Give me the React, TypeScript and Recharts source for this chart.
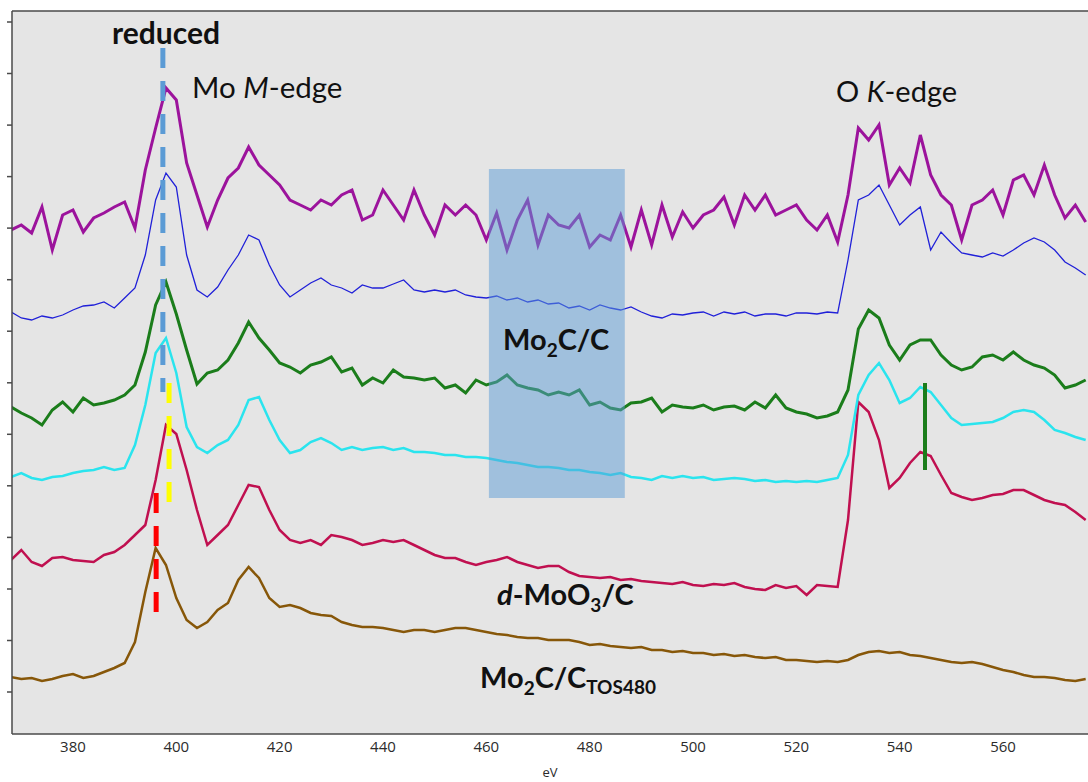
import { LineChart, Line, XAxis, YAxis, CartesianGrid, ReferenceArea, ReferenceLine } from 'recharts';

// photon energy, eV (2 eV steps)
const energy = [
  368, 370, 372, 374, 376, 378, 380, 382, 384, 386,
  388, 390, 392, 394, 396, 398, 400, 402, 404, 406,
  408, 410, 412, 414, 416, 418, 420, 422, 424, 426,
  428, 430, 432, 434, 436, 438, 440, 442, 444, 446,
  448, 450, 452, 454, 456, 458, 460, 462, 464, 466,
  468, 470, 472, 474, 476, 478, 480, 482, 484, 486,
  488, 490, 492, 494, 496, 498, 500, 502, 504, 506,
  508, 510, 512, 514, 516, 518, 520, 522, 524, 526,
  528, 530, 532, 534, 536, 538, 540, 542, 544, 546,
  548, 550, 552, 554, 556, 558, 560, 562, 564, 566,
  568, 570, 572, 574, 576,
];

// stacked intensities (a.u., offset traces)
const purple = [
  504, 509, 501, 527, 484, 519, 524, 502, 516, 521,
  527, 532, 506, 564, 606, 646, 634, 571, 539, 507,
  534, 556, 566, 587, 569, 559, 549, 534, 529, 524,
  534, 529, 539, 544, 514, 519, 544, 529, 514, 544,
  519, 499, 529, 519, 529, 519, 494, 521, 484, 514,
  534, 489, 519, 509, 506, 519, 487, 499, 494, 519,
  487, 524, 489, 529, 497, 522, 506, 519, 524, 537,
  509, 539, 524, 539, 519, 524, 529, 514, 504, 519,
  492, 539, 606, 594, 609, 549, 566, 551, 599, 559,
  539, 529, 494, 529, 534, 544, 519, 554, 559, 539,
  569, 539, 516, 529, 512,
];

const blue = [
  422, 416, 414, 418, 416, 419, 424, 428, 429, 432,
  426, 436, 446, 479, 534, 561, 547, 479, 444, 437,
  447, 464, 479, 499, 494, 469, 449, 437, 444, 451,
  456, 449, 446, 441, 449, 446, 446, 450, 454, 444,
  442, 444, 442, 444, 439, 437, 436, 438, 434, 436,
  432, 434, 430, 431, 426, 428, 424, 429, 426, 424,
  427, 422, 418, 416, 420, 419, 421, 422, 418, 422,
  420, 422, 418, 420, 420, 418, 421, 421, 420, 422,
  421, 474, 534, 539, 549, 529, 509, 519, 527, 484,
  502, 491, 481, 479, 477, 481, 478, 484, 491, 496,
  492, 484, 472, 466, 459,
];

const green = [
  327, 321, 316, 309, 324, 332, 322, 336, 329, 331,
  334, 339, 349, 382, 429, 452, 420, 384, 350, 361,
  364, 374, 391, 412, 396, 384, 371, 367, 361, 369,
  372, 377, 362, 366, 349, 356, 351, 364, 357, 356,
  354, 356, 346, 349, 341, 354, 349, 352, 359, 349,
  346, 344, 339, 342, 339, 344, 329, 332, 326, 324,
  331, 332, 336, 322, 329, 327, 326, 329, 324, 327,
  328, 324, 332, 326, 339, 326, 322, 320, 316, 318,
  322, 344, 405, 424, 416, 389, 374, 389, 394, 394,
  379, 369, 364, 367, 377, 379, 374, 382, 374, 369,
  366, 359, 346, 349, 354,
];

const cyan = [
  257, 261, 256, 254, 257, 258, 261, 263, 264, 267,
  264, 266, 289, 329, 381, 396, 361, 307, 287, 281,
  289, 294, 309, 334, 337, 314, 294, 281, 284, 292,
  296, 291, 284, 287, 284, 286, 287, 284, 286, 282,
  282, 281, 279, 279, 277, 277, 276, 274, 272, 271,
  269, 267, 267, 266, 264, 264, 262, 261, 259, 261,
  257, 256, 254, 258, 256, 258, 256, 257, 254, 255,
  256, 255, 253, 254, 252, 253, 252, 253, 252, 254,
  256, 279, 339, 359, 371, 354, 331, 336, 347, 342,
  329, 316, 309, 310, 311, 312, 316, 322, 324, 322,
  314, 304, 301, 297, 294,
];

const crimson = [
  174, 184, 172, 168, 176, 177, 174, 173, 172, 179,
  182, 189, 199, 209, 254, 309, 300, 264, 224, 189,
  199, 209, 229, 249, 247, 224, 204, 194, 191, 194,
  189, 199, 197, 194, 189, 191, 194, 192, 194, 189,
  184, 179, 176, 176, 172, 169, 172, 174, 177, 172,
  169, 166, 168, 168, 162, 158, 157, 156, 157, 154,
  155, 153, 152, 151, 150, 152, 149, 148, 150, 149,
  151, 147, 145, 144, 149, 146, 148, 139, 149, 148,
  147, 214, 332, 322, 294, 246, 256, 271, 282, 278,
  259, 241, 237, 234, 236, 239, 240, 244, 244, 239,
  234, 231, 229, 222, 214,
];

const brown = [
  57, 55, 56, 53, 55, 58, 60, 56, 58, 62,
  66, 71, 92, 142, 186, 169, 136, 114, 106, 112,
  124, 131, 154, 167, 156, 136, 127, 129, 126, 121,
  119, 118, 112, 109, 107, 107, 106, 104, 102, 104,
  104, 102, 104, 106, 106, 104, 102, 100, 99, 97,
  96, 96, 94, 94, 94, 92, 89, 90, 88, 87,
  86, 87, 84, 84, 82, 83, 81, 81, 79, 80,
  78, 79, 77, 76, 77, 74, 74, 73, 72, 73,
  72, 74, 79, 82, 83, 81, 82, 79, 78, 76,
  74, 72, 71, 72, 70, 67, 64, 62, 59, 57,
  57, 56, 54, 53, 55,
];

const xTicks = [380, 400, 420, 440, 460, 480, 500, 520, 540, 560];
const yTicks = [42, 93.5, 145, 196.6, 248.2, 299.7, 351.2, 402.8, 454.3, 505.9, 557.4, 608.9, 660.5, 712];

const data = energy.map((e, i) => ({
  e,
  purple: purple[i],
  blue: blue[i],
  green: green[i],
  cyan: cyan[i],
  crimson: crimson[i],
  brown: brown[i],
}));

const axisColor = '#4a4a4a';
const font = 'Lato, "Open Sans", sans-serif';
const tickFont = '"Open Sans", sans-serif';

export default function App() {
  return (
    <div style={{ position: 'absolute', left: 0, top: 0, width: 1088, height: 782, background: '#fff' }}>
      <LineChart width={1088} height={782} data={data} margin={{ top: 11, right: 0, bottom: 0, left: 0 }}>
        <CartesianGrid fill="#e5e5e5" horizontal={false} vertical={false} />
        <XAxis
          type="number"
          dataKey="e"
          domain={[368.2, 576.45]}
          ticks={xTicks}
          allowDataOverflow
          height={48}
          stroke={axisColor}
          strokeWidth={1.5}
          tickLine={false}
          tickSize={5}
          tick={{ fill: '#2b2b2b', fontSize: 15, fontFamily: tickFont }}
          label={{ value: 'eV', position: 'insideBottom', offset: 5, fill: '#2b2b2b', fontSize: 13, fontFamily: tickFont }}
        />
        <YAxis
          type="number"
          domain={[0, 723]}
          ticks={yTicks}
          allowDataOverflow
          width={12}
          stroke={axisColor}
          strokeWidth={1.5}
          tickSize={5}
          tickFormatter={() => ''}
        />
        <ReferenceLine y={723} stroke={axisColor} strokeWidth={1.5} />

        <Line dataKey="brown" stroke="#875709" strokeWidth={2.5} dot={false} isAnimationActive={false} />
        <Line dataKey="crimson" stroke="#c01050" strokeWidth={2.5} dot={false} isAnimationActive={false} />
        <Line dataKey="cyan" stroke="#2ae4ee" strokeWidth={2.5} dot={false} isAnimationActive={false} />
        <Line dataKey="green" stroke="#1b7d1b" strokeWidth={3} dot={false} isAnimationActive={false} />
        <Line dataKey="blue" stroke="#2020d8" strokeWidth={1.3} dot={false} isAnimationActive={false} />
        <Line dataKey="purple" stroke="#9c139c" strokeWidth={3} dot={false} isAnimationActive={false} />

        <ReferenceArea x1={460.5} x2={486.8} y1={236} y2={565} fill="#5b9bd5" fillOpacity={0.5} stroke="none" zIndex={900} />
        <ReferenceLine segment={[{ x: 397.4, y: 686 }, { x: 397.4, y: 342 }]} stroke="#5b9bd5" strokeWidth={5} strokeDasharray="20 13" zIndex={950} />
        <ReferenceLine segment={[{ x: 398.6, y: 351 }, { x: 398.6, y: 231 }]} stroke="#ffff00" strokeWidth={5} strokeDasharray="20 13" zIndex={950} />
        <ReferenceLine segment={[{ x: 396.1, y: 241 }, { x: 396.1, y: 122 }]} stroke="#ff0000" strokeWidth={5} strokeDasharray="20 13" zIndex={950} />
        <ReferenceLine segment={[{ x: 544.9, y: 351 }, { x: 544.9, y: 264 }]} stroke="#1b7d1b" strokeWidth={4} zIndex={950} />
      </LineChart>

      <svg width={1088} height={782} style={{ position: 'absolute', left: 0, top: 0, pointerEvents: 'none' }}>
        <g fontFamily={font} fill="#111">
          <text x={166} y={44} textAnchor="middle" fontSize={30} fontWeight="bold">reduced</text>
          <text x={192} y={98} fontSize={29.5}>
            Mo <tspan fontStyle="italic">M</tspan>-edge
          </text>
          <text x={836} y={102} fontSize={29}>
            O <tspan fontStyle="italic">K</tspan>-edge
          </text>
          <text x={503} y={350} fontSize={29} fontWeight="bold">
            Mo<tspan fontSize={19} dy={7}>2</tspan><tspan dy={-7}>C/C</tspan>
          </text>
          <text x={497} y={605} fontSize={29} fontWeight="bold">
            <tspan fontStyle="italic">d</tspan>-MoO<tspan fontSize={19} dy={7}>3</tspan><tspan dy={-7}>/C</tspan>
          </text>
          <text x={480} y={688} fontSize={29} fontWeight="bold">
            Mo<tspan fontSize={19} dy={7}>2</tspan><tspan dy={-7}>C/C</tspan><tspan fontSize={19} dy={6}>TOS480</tspan>
          </text>
        </g>
      </svg>
    </div>
  );
}
